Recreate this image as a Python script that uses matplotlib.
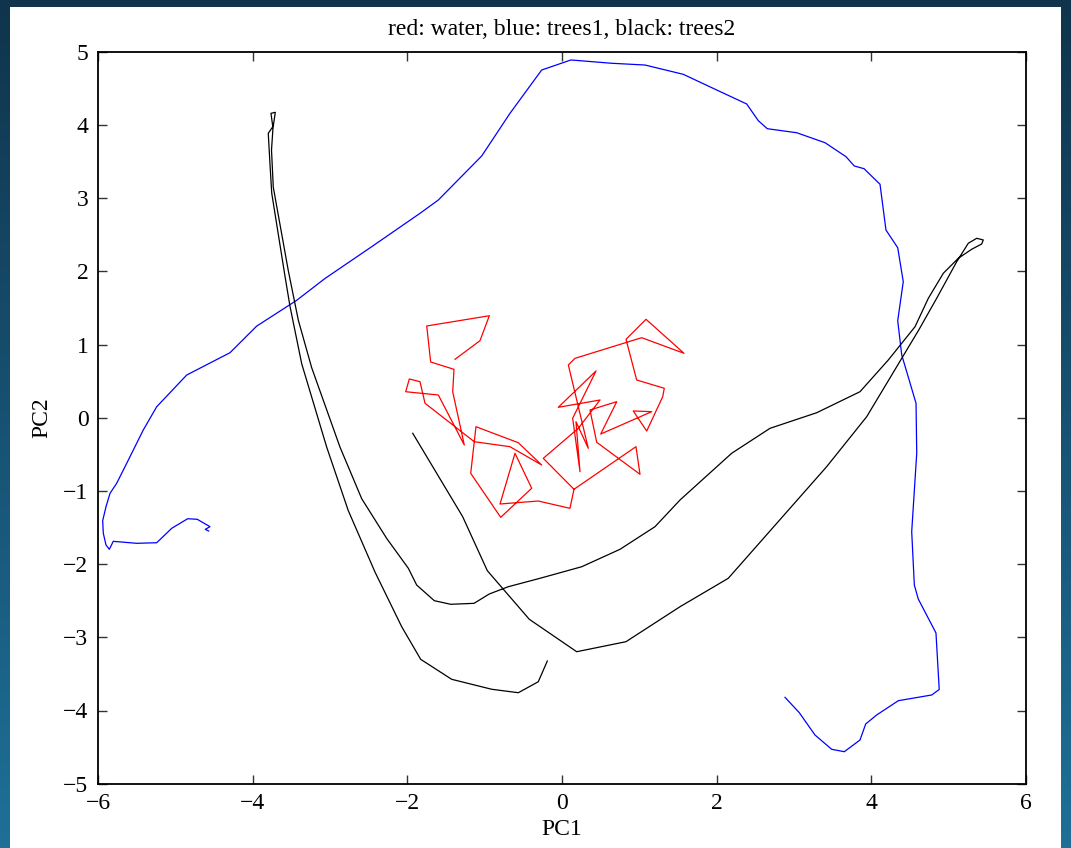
import numpy as np
import matplotlib
matplotlib.use("Agg")
import matplotlib.pyplot as plt
from matplotlib.patches import Rectangle

# ---------------- data ----------------
water_x = [-1.384, -1.061, -0.940, -1.750, -1.699, -1.397, -1.414, -1.264, -1.600, -2.022,
           -1.975, -1.837, -1.772, -1.135, -0.673, -0.263, -0.565, -1.113, -1.181, -0.793,
           -0.392, -0.608, -0.802, -0.307, 0.103, 0.155, 0.957, 1.009, 0.449, 0.362,
           0.708, 0.501, 1.160, 0.922, 1.096, 1.303, 1.323, 0.966, 0.828, 1.087,
           1.578, 1.031, 0.168, 0.082, 0.340, 0.181, 0.233, 0.138, 0.440, -0.048,
           0.492, 0.211, -0.242, 0.155]
water_y = [0.798, 1.052, 1.393, 1.253, 0.761, 0.661, 0.355, -0.373, 0.310, 0.355,
           0.529, 0.492, 0.197, -0.328, -0.396, -0.646, -0.342, -0.123, -0.760, -1.361,
           -0.964, -0.486, -1.179, -1.138, -1.238, -0.978, -0.396, -0.773, -0.336, 0.105,
           0.219, -0.223, 0.082, 0.092, -0.182, 0.287, 0.402, 0.515, 1.071, 1.344,
           0.880, 1.093, 0.811, 0.720, -0.418, -0.055, -0.738, -0.008, 0.638, 0.142,
           0.242, -0.145, -0.555, -0.978]

trees1_x = [-4.571, -4.615, -4.554, -4.718, -4.842, -5.049, -5.243, -5.502, -5.805, -5.856,
            -5.899, -5.934, -5.942, -5.899, -5.847, -5.761, -5.631, -5.417, -5.243, -4.855,
            -4.295, -3.950, -3.432, -3.066, -2.462, -1.837, -1.600, -1.039, -0.673, -0.263,
            0.116, 0.643, 1.074, 1.569, 2.001, 2.389, 2.540, 2.656, 3.036, 3.402,
            3.674, 3.781, 3.907, 4.114, 4.191, 4.343, 4.415, 4.343, 4.395, 4.580,
            4.589, 4.524, 4.558, 4.609, 4.838, 4.880, 4.783, 4.351, 4.071, 3.929,
            3.855, 3.652, 3.489, 3.273, 3.070, 2.885]
trees1_y = [-1.548, -1.525, -1.489, -1.388, -1.380, -1.511, -1.708, -1.716, -1.689, -1.798,
            -1.739, -1.579, -1.407, -1.216, -1.033, -0.896, -0.623, -0.168, 0.150, 0.583,
            0.888, 1.251, 1.604, 1.902, 2.336, 2.792, 2.974, 3.575, 4.158, 4.750,
            4.887, 4.842, 4.818, 4.691, 4.477, 4.286, 4.057, 3.948, 3.893, 3.757,
            3.566, 3.439, 3.402, 3.189, 2.564, 2.322, 1.858, 1.325, 0.857, 0.197,
            -0.486, -1.557, -2.286, -2.477, -2.941, -3.713, -3.788, -3.866, -4.061, -4.184,
            -4.403, -4.563, -4.530, -4.335, -4.030, -3.820]

trees2_x = [-1.931, -1.285, -0.966, -0.423, 0.190, 0.828, 1.527, 2.151, 3.424, 3.942,
            4.615, 4.847, 5.106, 5.256, 5.365, 5.450, 5.429, 5.300, 5.127, 4.933,
            4.739, 4.567, 4.221, 3.855, 3.295, 2.691, 2.195, 1.527, 1.203, 0.750,
            0.255, -0.285, -0.695, -0.940, -1.138, -1.440, -1.652, -1.880, -1.988, -2.268,
            -2.591, -2.872, -3.238, -3.411, -3.541, -3.735, -3.758, -3.739, -3.765, -3.709,
            -3.735, -3.800, -3.777, -3.755, -3.583, -3.519, -3.367, -3.044, -2.765, -2.419,
            -2.074, -1.828, -1.427, -0.909, -0.565, -0.307, -0.190]
trees2_y = [-0.213, -1.352, -2.090, -2.754, -3.197, -3.060, -2.582, -2.194, -0.669, 0.014,
            1.198, 1.631, 2.131, 2.383, 2.451, 2.428, 2.373, 2.301, 2.178, 1.973,
            1.631, 1.243, 0.788, 0.355, 0.068, -0.145, -0.486, -1.124, -1.489, -1.798,
            -2.036, -2.194, -2.309, -2.408, -2.536, -2.549, -2.500, -2.286, -2.057, -1.649,
            -1.107, -0.402, 0.682, 1.332, 2.010, 3.149, 3.657, 3.958, 4.158, 4.172,
            3.985, 3.885, 3.452, 3.067, 1.929, 1.522, 0.736, -0.402, -1.269, -2.109,
            -2.855, -3.301, -3.574, -3.710, -3.757, -3.607, -3.324]

x_ticks = [-6, -4, -2, 0, 2, 4, 6]
y_ticks = [-5, -4, -3, -2, -1, 0, 1, 2, 3, 4, 5]
title_text = "red: water, blue: trees1, black: trees2"
xlabel_text = "PC1"
ylabel_text = "PC2"

# ---------------- figure ----------------
W, H = 1071, 848
fig = plt.figure(figsize=(W / 100, H / 100), dpi=100)
plt.rcParams['font.family'] = ['Liberation Serif', 'DejaVu Serif']

# dark blue gradient frame
bg = fig.add_axes([0, 0, 1, 1], zorder=-10)
bg.set_axis_off()
t = np.linspace(0, 1, 256)[:, None]
c_top = np.array([16, 52, 76]) / 255.0
c_bot = np.array([30, 112, 152]) / 255.0
grad = (1 - t)[:, :, None] * c_top + t[:, :, None] * c_bot
grad = np.repeat(grad, 4, axis=1)
bg.imshow(grad, aspect='auto', extent=[0, 1, 0, 1], origin='upper')
bg.add_patch(Rectangle((10 / W, 0), (1061 - 10) / W, (H - 7) / H,
                       transform=bg.transAxes, facecolor='white', edgecolor='none'))
bg.set_xlim(0, 1)
bg.set_ylim(0, 1)

left, right, top, bottom = 98.2, 1025.8, 51.7, 783.7
ax = fig.add_axes([left / W, (H - bottom) / H, (right - left) / W, (bottom - top) / H])
ax.set_facecolor('white')

ax.plot(water_x, water_y, color='#ff0000', lw=0.9)
ax.plot(trees1_x, trees1_y, color='#0000ff', lw=0.9)
ax.plot(trees2_x, trees2_y, color='#000000', lw=0.9)

ax.set_xlim(-6, 6)
ax.set_ylim(-5, 5)
ax.set_xticks(x_ticks)
ax.set_yticks(y_ticks)
ax.tick_params(direction='in', length=6.5, width=1.0, color='#333333',
               top=True, right=True, labelsize=17)
ax.tick_params(axis='x', pad=7)
ax.tick_params(axis='y', pad=7)
for s in ax.spines.values():
    s.set_linewidth(1.3)
    s.set_color('black')

ax.set_title(title_text, fontsize=17, pad=12)
ax.set_xlabel(xlabel_text, fontsize=17, labelpad=3)
ax.set_ylabel(ylabel_text, fontsize=17, labelpad=8)

fig.savefig("out.png", dpi=100)
